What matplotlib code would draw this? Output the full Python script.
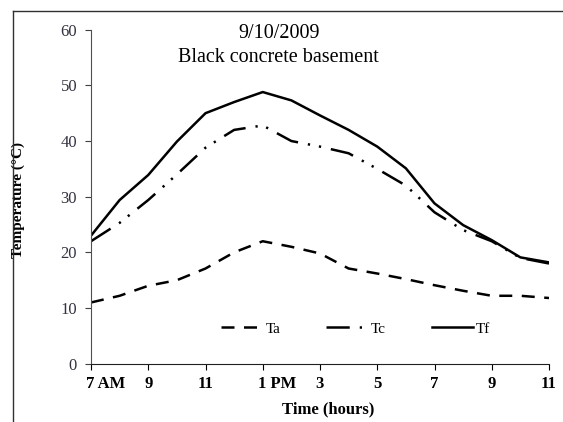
import matplotlib
matplotlib.use("Agg")
import matplotlib.pyplot as plt
from matplotlib.lines import Line2D
from matplotlib.transforms import ScaledTranslation

plt.rcParams["font.family"] = ["Liberation Serif", "DejaVu Serif"]

# hourly readings, 7 AM .. 11 PM
HOURS = list(range(7, 24))
TA = [11, 12.2, 14, 15, 17.1, 20, 22, 21, 19.8, 17.1, 16.2, 15.2, 14.1, 13.1, 12.2, 12.2, 11.8]
TC = [22, 25.3, 29.4, 34, 38.8, 42, 42.8, 40, 39, 37.8, 35, 32, 27.2, 24, 22, 19, 18]
TF = [23, 29.4, 33.9, 39.9, 45, 47, 48.8, 47.3, 44.6, 42, 39, 35.1, 28.8, 24.9, 22.2, 19.1, 18.2]

TICK_HOURS = [7, 9, 11, 13, 15, 17, 19, 21, 23]
TICK_LABELS = ["7 AM", "9", "11", "1 PM", "3", "5", "7", "9", "11"]

fig = plt.figure(figsize=(5.63, 4.22), dpi=100)
ax = fig.add_axes([91 / 563, 58.3 / 422, 458 / 563, 334 / 422])

lw = 1.8
ax.plot(HOURS, TA, color="black", lw=lw, dashes=(5.2, 3.8), label="Ta",
        dash_capstyle="butt")
ax.plot(HOURS, TC, color="black", lw=lw, dashes=(9.3, 4.0, 0.9, 3.6, 0.9, 4.0),
        label="Tc", dash_capstyle="butt")
ax.plot(HOURS, TF, color="black", lw=lw, label="Tf")

ax.set_xlim(7, 23)
ax.set_ylim(0, 60)
ax.set_xticks(TICK_HOURS)
ax.set_xticklabels(TICK_LABELS, fontweight="bold", fontsize=12)
ax.set_yticks(range(0, 61, 10))
ax.tick_params(axis="y", labelsize=12, length=4, width=0.8, color="#404040",
               labelcolor="#333340", pad=6)
ax.tick_params(axis="x", length=4, width=0.8, pad=5)

# Excel put the hour digit on the tick and let "AM"/"PM" trail to the right
shift = ScaledTranslation(-4.5 / 100, 0, fig.dpi_scale_trans)
for lbl in ax.get_xticklabels():
    if " " in lbl.get_text():
        lbl.set_ha("left")
        lbl.set_transform(lbl.get_transform() + shift)

for side in ("top", "right"):
    ax.spines[side].set_visible(False)
ax.spines["left"].set_color("#505050")
ax.spines["bottom"].set_color("#202020")

ax.set_ylabel("Temperature (\u00b0C)", fontweight="bold", fontsize=11)
ax.yaxis.set_label_coords(-0.144, 0.49)
ax.set_xlabel("Time (hours)", fontweight="bold", fontsize=12)
ax.xaxis.set_label_coords(0.517, -0.112)

ax.text(0.41, 0.974, "9/10/2009", transform=ax.transAxes, ha="center",
        va="baseline", fontsize=14.5)
ax.text(0.41, 0.904, "Black concrete basement", transform=ax.transAxes,
        ha="center", va="baseline", fontsize=14.5)

ax.legend(loc="center", bbox_to_anchor=(0.578, 0.104), ncol=3, frameon=False,
          fontsize=11, handlelength=2.7, columnspacing=3.0, handletextpad=0.2)

# outer frame of the pasted figure
fig.add_artist(Line2D([12.6 / 563, 12.6 / 563], [0, 1 - 10.8 / 422],
                      transform=fig.transFigure, color="#303030", lw=1))
fig.add_artist(Line2D([12.6 / 563, 1], [1 - 10.8 / 422, 1 - 10.8 / 422],
                      transform=fig.transFigure, color="#303030", lw=1))

fig.savefig("out.png", dpi=100)
